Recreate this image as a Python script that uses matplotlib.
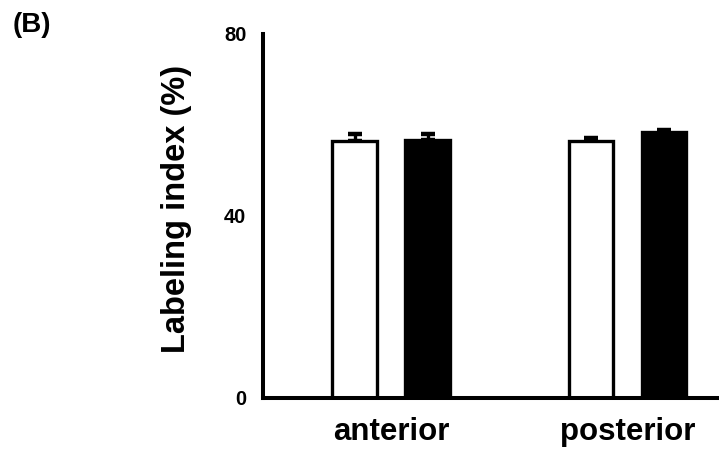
import matplotlib
matplotlib.use("Agg")
import matplotlib.pyplot as plt

plt.rcParams['font.family'] = ['Liberation Sans', 'DejaVu Sans']
plt.rcParams['font.weight'] = 'bold'

groups = ["anterior", "posterior"]
white_vals = [56.5, 56.5]
white_err = [1.6, 0.7]
black_vals = [56.7, 58.5]
black_err = [1.4, 0.4]
yticks = [0, 40, 80]

fig = plt.figure(figsize=(7.19, 4.5), dpi=100)
ax = fig.add_axes([0.366, 0.1156, 0.634, 0.8089])

x = list(range(len(groups)))
off = 0.1543
w = 0.19
xw = [i - off for i in x]
xb = [i + off for i in x]

ax.bar(xw, white_vals, width=w, color='white', edgecolor='black', linewidth=2.4, zorder=2)
ax.bar(xb, black_vals, width=w, color='black', edgecolor='black', linewidth=2.4, zorder=2)
ax.errorbar(xw, white_vals, yerr=[[0] * len(x), white_err], fmt='none', ecolor='black',
            elinewidth=2.4, capsize=5, capthick=3.2, zorder=1)
ax.errorbar(xb, black_vals, yerr=[[0] * len(x), black_err], fmt='none', ecolor='black',
            elinewidth=2.4, capsize=5, capthick=3.2, zorder=1)

ax.set_xlim(-0.541, 1.387)
ax.set_ylim(0, 80)
ax.set_yticks(yticks)
ax.set_yticklabels([str(t) for t in yticks], fontsize=14.5, fontweight='bold')
ax.set_xticks(x)
ax.set_xticklabels(groups, fontsize=22.5, fontweight='bold')
ax.tick_params(axis='y', length=0, pad=12)
ax.tick_params(axis='x', length=0, pad=14)

for s in ['top', 'right']:
    ax.spines[s].set_visible(False)
for s in ['left', 'bottom']:
    ax.spines[s].set_linewidth(2.9)

ax.set_ylabel("Labeling index (%)", fontsize=23.5, fontweight='bold')
ax.yaxis.set_label_coords(-0.156, 0.52)

fig.text(0.018, 0.945, "(B)", fontsize=20, fontweight='bold', va='center', ha='left')

fig.savefig("out.png", dpi=100)
